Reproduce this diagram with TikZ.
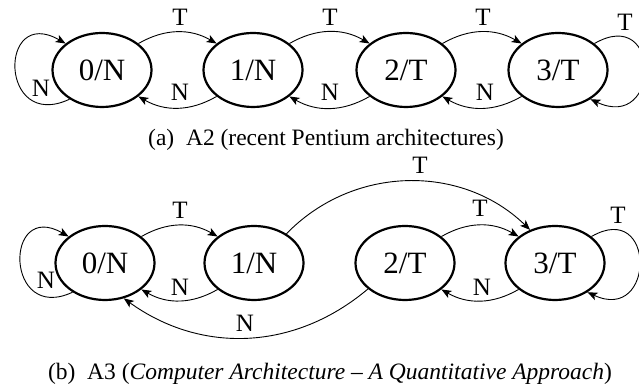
\documentclass[tikz,border=0pt]{standalone}
\usepackage{fontspec}
\setmainfont{Liberation Serif}
\usetikzlibrary{shapes.geometric,arrows.meta}
\begin{document}
\begin{tikzpicture}[x=1pt,y=1pt,
  state/.style={ellipse,draw,line width=2.2pt,minimum width=99pt,minimum height=74pt,inner sep=0pt,font=\fontsize{31}{31}\selectfont},
  edge/.style={line width=0.9pt,-{Stealth[length=10pt,width=8pt,inset=2.5pt]}},
  lbl/.style={font=\fontsize{25}{25}\selectfont,inner sep=0pt},
  captext/.style={font=\fontsize{23.5}{23.5}\selectfont,inner sep=0pt}]
\useasboundingbox (0,0) rectangle (639,387);
\clip (0,0) rectangle (639,387);
% ---------- (a) ----------
\node[state] (a0) at (102,317) {0/N};
\node[state] (a1) at (253,317) {1/N};
\node[state] (a2) at (406,317) {2/T};
\node[state] (a3) at (558,317) {3/T};
\draw[edge] (a0.36) to[bend left=30] (a1.144);
\draw[edge] (a1.36) to[bend left=30] (a2.144);
\draw[edge] (a2.36) to[bend left=30] (a3.144);
\draw[edge] (a1.216) to[bend left=30] (a0.324);
\draw[edge] (a2.216) to[bend left=30] (a1.324);
\draw[edge] (a3.216) to[bend left=30] (a2.324);
\draw[edge] (a0.222) .. controls +(205:78) and +(150:78) .. (a0.144);
\draw[edge] (a3.36) .. controls +(30:78) and +(-25:78) .. (a3.318);
\node[lbl] (ta01) at (180,370) {T};
\node[lbl] (ta12) at (330,370) {T};
\node[lbl] (ta23) at (483,370) {T};
\node[lbl] (ta33) at (625,365) {T};
\node[lbl] (na10) at (180,295) {N};
\node[lbl] (na21) at (330,295) {N};
\node[lbl] (na32) at (485,295) {N};
\node[lbl] (na00) at (41,299) {N};
\node[captext] (capa) at (326,247) {(a)\hspace{0.5em}A2 (recent Pentium architectures)};
% ---------- (b) ----------
\node[state] (b0) at (105,124) {0/N};
\node[state] (b1) at (254,124) {1/N};
\node[state] (b2) at (405,124) {2/T};
\node[state] (b3) at (555,124) {3/T};
\draw[edge] (b0.36) to[bend left=30] (b1.144);
\draw[edge] (b2.36) to[bend left=30] (b3.144);
\draw[edge] (b1.42) to[bend left=45] (b3.127);
\draw[edge] (b1.216) to[bend left=30] (b0.324);
\draw[edge] (b3.216) to[bend left=30] (b2.324);
\draw[edge] (b2.215) to[bend left=38] (b0.298);
\draw[edge] (b0.222) .. controls +(205:75) and +(150:75) .. (b0.144);
\draw[edge] (b3.36) .. controls +(30:75) and +(-25:75) .. (b3.318);
\node[lbl] (tb01) at (180,177) {T};
\node[lbl] (tb13) at (420,222) {T};
\node[lbl] (tb23) at (480,179) {T};
\node[lbl] (tb33) at (618,172) {T};
\node[lbl] (nb10) at (180,100) {N};
\node[lbl] (nb32) at (482,100) {N};
\node[lbl] (nb00) at (46,107) {N};
\node[lbl] (nb20) at (245,64) {N};
\node[captext] (capb) at (330,13) {(b)\hspace{0.5em}A3 (\textit{Computer Architecture -- A Quantitative Approach})};
\end{tikzpicture}
\end{document}
